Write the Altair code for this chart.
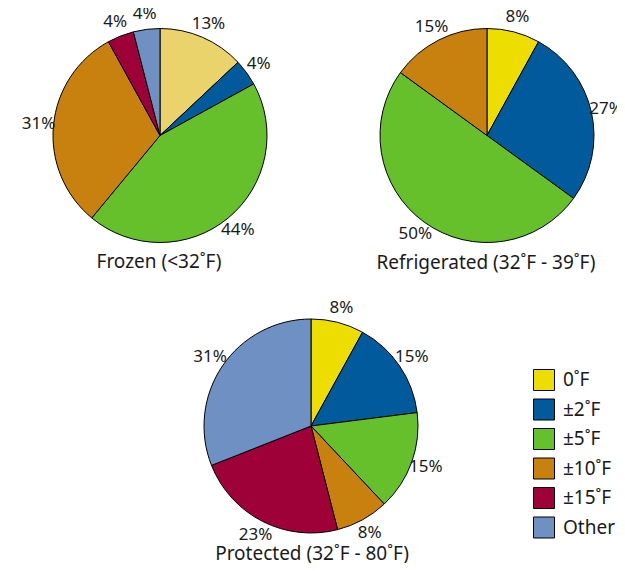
import altair as alt
import pandas as pd

categories = ["0˚F", "±2˚F", "±5˚F", "±10˚F", "±15˚F", "Other"]
palette = ["#EEDD00", "#005A9C", "#66C02B", "#C8800F", "#9E0038", "#6E90C2"]

frozen_vals = [13, 4, 44, 31, 4, 4]
refrig_vals = [8, 27, 50, 15, 0, 0]
protected_vals = [8, 15, 15, 8, 23, 31]

pies = ["frozen", "refrig", "protected"]
titles = ["Frozen (<32˚F)", "Refrigerated (32˚F - 39˚F)", "Protected (32˚F - 80˚F)"]

LIGHT_KEY = "0˚F (frozen)"
LIGHT_COLOR = "#EBD36B"

rows = []
for pie, vals in zip(pies, [frozen_vals, refrig_vals, protected_vals]):
    for i, (c, v) in enumerate(zip(categories, vals)):
        if v == 0:
            continue
        key = LIGHT_KEY if (pie == "frozen" and i == 0) else c
        rows.append({"pie": pie, "cat": c, "key": key, "value": v,
                     "idx": i, "label": f"{v}%"})
df = pd.DataFrame(rows)

color_enc = alt.Color(
    "key:N",
    scale=alt.Scale(domain=categories + [LIGHT_KEY], range=palette + [LIGHT_COLOR]),
    legend=alt.Legend(
        values=categories, title=None, orient="none", legendX=525, legendY=361,
        symbolType="square", symbolSize=441, symbolStrokeColor="black",
        symbolStrokeWidth=1, labelFontSize=19, labelFont="Noto Sans",
        labelColor="#1a1a1a", rowPadding=3.5, labelOffset=8, padding=0,
        symbolOpacity=1,
    ),
)

centers = {"frozen": (152, 127.5), "refrig": (479, 127.5), "protected": (303, 418)}
title_pos = {"frozen": (151, 254), "refrig": (478, 255), "protected": (304, 546)}

layers = []
for pie, title in zip(pies, titles):
    cx, cy = centers[pie]
    base = alt.Chart(df).transform_filter(alt.datum.pie == pie)
    arcs = base.mark_arc(outerRadius=107, stroke="black", strokeWidth=1).encode(
        theta=alt.Theta("value:Q", stack=True),
        color=color_enc,
        order=alt.Order("idx:Q"),
        x=alt.value(cx), y=alt.value(cy),
    )
    labels = base.mark_text(radius=122, fontSize=17, font="Noto Sans",
                            color="#1a1a1a", align="center", baseline="middle").encode(
        theta=alt.Theta("value:Q", stack=True),
        order=alt.Order("idx:Q"),
        text="label:N",
        x=alt.value(cx), y=alt.value(cy),
    )
    tx, ty = title_pos[pie]
    tdf = pd.DataFrame({"title": [title]})
    ttl = alt.Chart(tdf).mark_text(fontSize=19, font="Noto Sans", color="#1a1a1a",
                                   align="center", baseline="middle").encode(
        text="title:N", x=alt.value(tx), y=alt.value(ty),
    )
    layers += [arcs, labels, ttl]

chart = alt.layer(*layers).properties(
    width=609, height=555, padding=0, autosize="none"
).configure_view(stroke=None)

chart.save("out.html", embed_options={"renderer": "svg", "actions": False})
